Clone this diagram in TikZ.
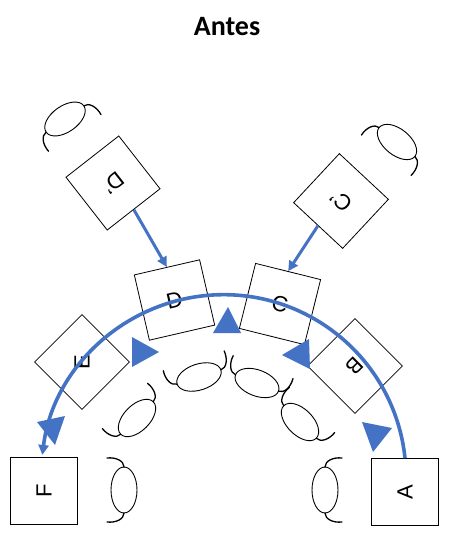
\documentclass[tikz,border=0pt]{standalone}
\usepackage{fontspec}
\setmainfont{Liberation Sans}
\newfontfamily\titlefont{Carlito}
\usetikzlibrary{arrows.meta}
\definecolor{bl}{RGB}{68,114,196}
\tikzset{
  box/.style={draw=black, line width=0.8pt, fill=white, minimum size=67pt, inner sep=0pt, font=\fontsize{22}{26}\selectfont},
  conn/.style={draw=bl, line width=3pt, -{Triangle[length=10pt,width=10pt]}},
  ringline/.style={draw=bl, line width=3.6pt, -{Triangle[length=10pt,width=10pt]}},
  marker/.style={fill=bl},
  headline/.style={draw=black, line width=0.9pt},
  armline/.style={draw=black, line width=1.3pt, line cap=round},
  person/.pic={
    \draw[headline] (0,0) ellipse [x radius=13, y radius=23];
    \draw[armline] (0,23) .. controls (0,29) and (-8,33) .. (-17,32);
    \draw[armline] (0,-23) .. controls (0,-29) and (-8,-33) .. (-17,-32);
  }
}
\begin{document}
\begin{tikzpicture}[x=1pt,y=1pt]
\useasboundingbox (0,0) rectangle (450,-545);
\node[font=\titlefont\bfseries\fontsize{28}{32}\selectfont] (title) at (227,-27) {Antes};
% persons
\pic[rotate=0] at (124,-490) {person};
\pic[rotate=180] at (325,-490) {person};
\pic[rotate=-45] at (137,-418) {person};
\pic[rotate=-72] at (199,-377) {person};
\pic[rotate=-111] at (257,-383) {person};
\pic[rotate=-135] at (300,-422) {person};
\pic[rotate=125] at (65,-119) {person};
\pic[rotate=51] at (397,-142) {person};
% boxes
\node[box, rotate=90] (F) at (44,-491) {F};
\node[box, rotate=90] (A) at (405,-492) {A};
\node[box, rotate=45] (E) at (82,-362) {\rotatebox{45}{E}};
\node[box, rotate=13] (D) at (174.5,-300) {D};
\node[box, rotate=-14] (C) at (280,-304) {C};
\node[box, rotate=225] (B) at (355,-366) {B};
\node[box, rotate=218] (Dp) at (113,-183) {D'};
\node[box, rotate=137] (Cp) at (341,-201) {C'};
% connectors
\draw[conn] (Dp.north) -- (D.north);
\draw[conn] (Cp.north) -- (C.north);
\draw[ringline] (A.east) arc[start angle=6, end angle=173, radius=182.5];
% markers
\fill[marker] (228,-307) -- (213,-333) -- (241,-333) -- cycle;
\fill[marker] (132,-337) -- (132,-367) -- (159,-352) -- cycle;
\fill[marker] (282,-355) -- (309,-339) -- (310,-369) -- cycle;
\fill[marker] (362,-422) -- (392,-428) -- (373,-452) -- cycle;
\fill[marker] (37,-422) -- (65,-416) -- (55,-445) -- cycle;
\end{tikzpicture}
\end{document}
